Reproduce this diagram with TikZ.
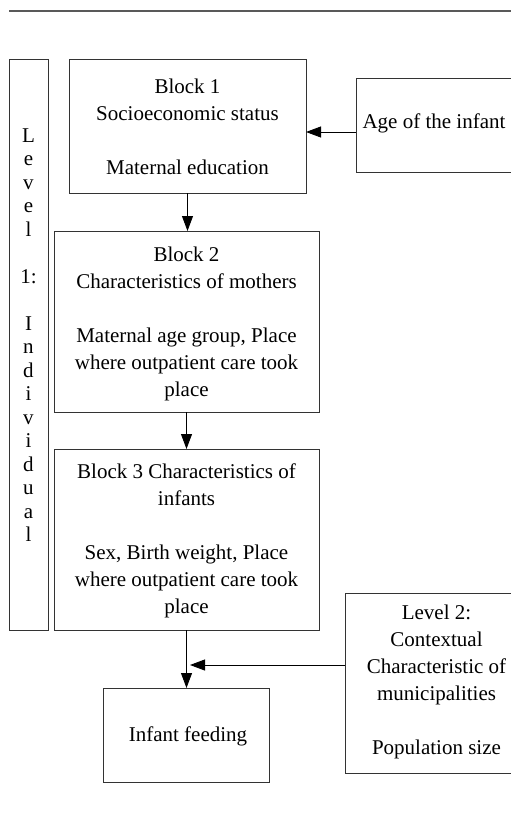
\documentclass[tikz,border=0pt]{standalone}
\usepackage{fontspec}
\setmainfont{Liberation Serif}
\usetikzlibrary{arrows.meta}
\begin{document}
\begin{tikzpicture}[x=1pt,y=-1pt,
  box/.style={draw=black!80, line width=0.9pt, inner sep=0pt, outer sep=0pt},
  txt/.style={align=center, inner sep=0pt, font=\fontsize{21}{27}\selectfont},
  levtxt/.style={align=center, inner sep=0pt, font=\fontsize{21}{23.5}\selectfont},
  conn/.style={draw=black, line width=0.9pt, -{Triangle[length=15pt,width=11pt]}},
  rule/.style={draw=black!65, line width=1.2pt}]
\useasboundingbox (0,0) rectangle (511,822);
\clip (0,0) rectangle (511,822);
% top rule
\draw[rule] (9,11) -- (511,11);
% boxes
\node[box, minimum width=39pt, minimum height=571pt] (lev) at (28.5,344.5) {};
\node[levtxt] (levt) at (28.5,335) {L\\e\\v\\e\\l\\[23.5pt]1:\\[23.5pt]I\\n\\d\\i\\v\\i\\d\\u\\a\\l};
\node[box, minimum width=237pt, minimum height=134pt] (b1) at (187.5,126) {};
\node[txt] (b1t) at (187.5,127) {Block 1\\Socioeconomic status\\[27pt]Maternal education};
\node[box, minimum width=156pt, minimum height=94pt] (age) at (434,125) {};
\node[txt] (aget) at (434,123) {Age of the infant};
\node[box, minimum width=265pt, minimum height=181pt] (b2) at (186.5,321.5) {};
\node[txt] (b2t) at (186.5,324) {Block 2\\Characteristics of mothers\\[27pt]Maternal age group, Place\\where outpatient care took\\place};
\node[box, minimum width=265pt, minimum height=181pt] (b3) at (186.5,539.5) {};
\node[txt] (b3t) at (186.5,540.5) {Block 3 Characteristics of\\infants\\[27pt]Sex, Birth weight, Place\\where outpatient care took\\place};
\node[box, minimum width=166pt, minimum height=94pt] (inf) at (186,735) {};
\node[txt] (inft) at (188,736) {Infant feeding};
\node[box, minimum width=183pt, minimum height=180pt] (lv2) at (436.5,683) {};
\node[txt] (lv2t) at (436.5,682) {Level 2:\\Contextual\\Characteristic of\\municipalities\\[27pt]Population size};
% connectors
\coordinate (agej) at (356,132);
\draw[conn] (agej) -- (agej -| b1.east);
\draw[conn] (b1.south) -- (b1.south |- b2.north);
\draw[conn] (b2.south) -- (b3.north);
\draw[conn] (b3.south) -- (b3.south |- inf.north);
\coordinate (ctxj) at (190,665);
\draw[conn] (ctxj -| lv2.west) -- (ctxj);
\end{tikzpicture}
\end{document}
